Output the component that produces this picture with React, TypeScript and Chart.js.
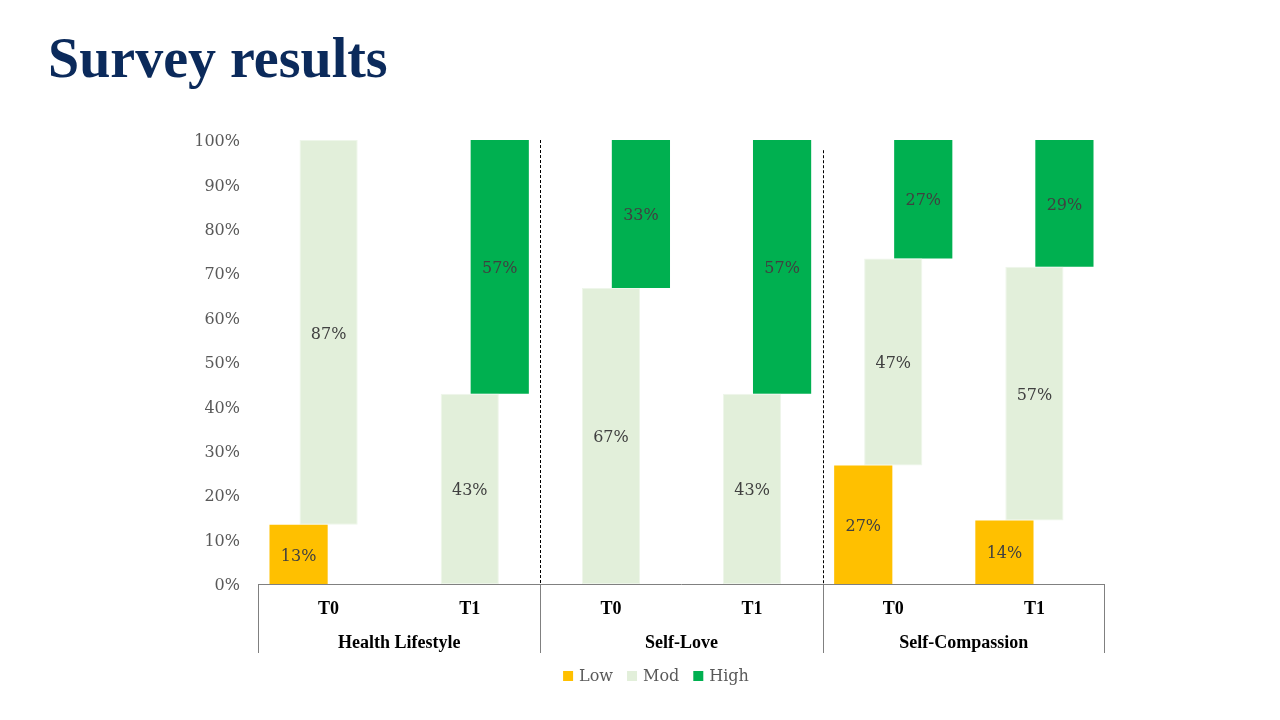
import React, { useEffect, useRef } from "react";
import { Chart, registerables } from "chart.js";

Chart.register(...registerables);

const titleText = "Survey results";
const groups = ["Health Lifestyle", "Self-Love", "Self-Compassion"];
const categories = ["T0", "T1", "T0", "T1", "T0", "T1"];
const seriesNames = ["Low", "Mod", "High"];
const lowValues = [13.33, 0, 0, 0, 26.67, 14.29];
const modValues = [86.67, 42.86, 66.67, 42.86, 46.66, 57.14];
const highValues = [0, 57.14, 33.33, 57.14, 26.67, 28.57];
const seriesColors = ["#FFC000", "#E2EFDA", "#00B050"];
const seriesBorders = ["#FFC000", "#EEF6EA", "#00B050"];
const dividerTops = [100, 97.7];

const seriesValues = [lowValues, modValues, highValues];

const REG = "'DejaVu Serif', serif";
const BOLD = "'Liberation Serif', serif";

function floating(s: number) {
  return categories.map((_, i) => {
    const v = seriesValues[s][i];
    if (!v) return null;
    let start = 0;
    for (let k = 0; k < s; k++) start += seriesValues[k][i];
    return [start, start + v];
  });
}

const decorPlugin = {
  id: "decor",
  afterDatasetsDraw(chart: any) {
    const ctx = chart.ctx;
    ctx.save();
    ctx.font = `16px ${REG}`;
    ctx.fillStyle = "#404040";
    ctx.textAlign = "center";
    ctx.textBaseline = "middle";
    chart.data.datasets.forEach((_ds: any, di: number) => {
      const meta = chart.getDatasetMeta(di);
      meta.data.forEach((el: any, i: number) => {
        const v = seriesValues[di][i];
        if (!v) return;
        const p = el.getProps(["x", "y", "base"], true);
        ctx.fillText(Math.round(v) + "%", p.x, (p.y + p.base) / 2 + 2);
      });
    });
    ctx.restore();
  },
  afterDraw(chart: any) {
    const ctx = chart.ctx;
    const area = chart.chartArea;
    const xs = chart.scales.x;
    const ys = chart.scales.y;
    ctx.save();

    // title
    ctx.font = `bold 56px ${BOLD}`;
    ctx.fillStyle = "#0B2A5B";
    ctx.textAlign = "left";
    ctx.textBaseline = "alphabetic";
    ctx.fillText(titleText, 48, 77);

    // dashed group separators
    ctx.strokeStyle = "#000000";
    ctx.lineWidth = 1;
    ctx.setLineDash([3, 2]);
    const bounds: number[] = [];
    for (let g = 1; g < groups.length; g++) {
      const bx = Math.round((xs.getPixelForValue(g * 2 - 1) + xs.getPixelForValue(g * 2)) / 2) + 0.5;
      bounds.push(bx);
      ctx.beginPath();
      ctx.moveTo(bx, ys.getPixelForValue(dividerTops[g - 1]));
      ctx.lineTo(bx, area.bottom);
      ctx.stroke();
    }
    ctx.setLineDash([]);

    // bottom axis box lines
    ctx.strokeStyle = "#808080";
    ctx.lineWidth = 1;
    const axisY = Math.round(area.bottom) + 0.5;
    ctx.beginPath();
    ctx.moveTo(area.left, axisY);
    ctx.lineTo(area.right, axisY);
    ctx.stroke();
    const verts = [Math.round(area.left) + 0.5, ...bounds, Math.round(area.right) - 0.5];
    verts.forEach((vx) => {
      ctx.beginPath();
      ctx.moveTo(vx, axisY);
      ctx.lineTo(vx, area.bottom + 69);
      ctx.stroke();
    });

    // category labels
    ctx.fillStyle = "#000000";
    ctx.font = `bold 18px ${BOLD}`;
    ctx.textAlign = "center";
    ctx.textBaseline = "middle";
    categories.forEach((c, i) => {
      ctx.fillText(c, xs.getPixelForValue(i), area.bottom + 25);
    });
    groups.forEach((g, gi) => {
      const cx = (xs.getPixelForValue(gi * 2) + xs.getPixelForValue(gi * 2 + 1)) / 2;
      ctx.fillText(g, cx, area.bottom + 59);
    });

    // legend
    ctx.font = `16px ${REG}`;
    const box = 10;
    const gapBox = 6;
    const gapItem = 14;
    const widths = seriesNames.map((n) => box + gapBox + ctx.measureText(n).width);
    const total = widths.reduce((a, b) => a + b, 0) + gapItem * (seriesNames.length - 1);
    let lx = 656 - total / 2;
    const ly = area.bottom + 93;
    seriesNames.forEach((n, i) => {
      ctx.fillStyle = seriesColors[i];
      ctx.fillRect(lx, ly - box / 2 - 1, box, box);
      ctx.fillStyle = "#595959";
      ctx.textAlign = "left";
      ctx.fillText(n, lx + box + gapBox, ly);
      lx += widths[i] + gapItem;
    });

    ctx.restore();
  },
};

export default function App() {
  const ref = useRef<HTMLCanvasElement | null>(null);
  useEffect(() => {
    if (!ref.current) return;
    const chart = new Chart(ref.current, {
      type: "bar",
      data: {
        labels: categories,
        datasets: seriesNames.map((name, s) => ({
          label: name,
          data: floating(s) as any,
          backgroundColor: seriesColors[s],
          borderColor: seriesBorders[s],
          borderWidth: s === 1 ? 1 : 0,
          borderSkipped: false,
          categoryPercentage: 0.6375,
          barPercentage: 1.94,
        })),
      },
      options: {
        responsive: false,
        animation: false,
        events: [],
        layout: { padding: { left: 0, top: 140, right: 175, bottom: 136 } },
        plugins: {
          legend: { display: false },
          tooltip: { enabled: false },
          title: { display: false },
        },
        scales: {
          x: {
            type: "category",
            display: false,
          },
          y: {
            min: 0,
            max: 100,
            grid: { display: false, drawTicks: false },
            border: { display: false },
            ticks: {
              stepSize: 10,
              padding: 18,
              labelOffset: 2,
              color: "#595959",
              font: { family: REG, size: 16 },
              callback: (v: any) => v + "%",
            },
            afterFit: (scale: any) => {
              scale.width = 258;
            },
          },
        },
      },
      plugins: [decorPlugin],
    });
    return () => chart.destroy();
  }, []);
  return (
    <div style={{ position: "absolute", left: 0, top: 0, width: 1280, height: 720, background: "#ffffff" }}>
      <canvas ref={ref} width={1280} height={720} />
    </div>
  );
}
